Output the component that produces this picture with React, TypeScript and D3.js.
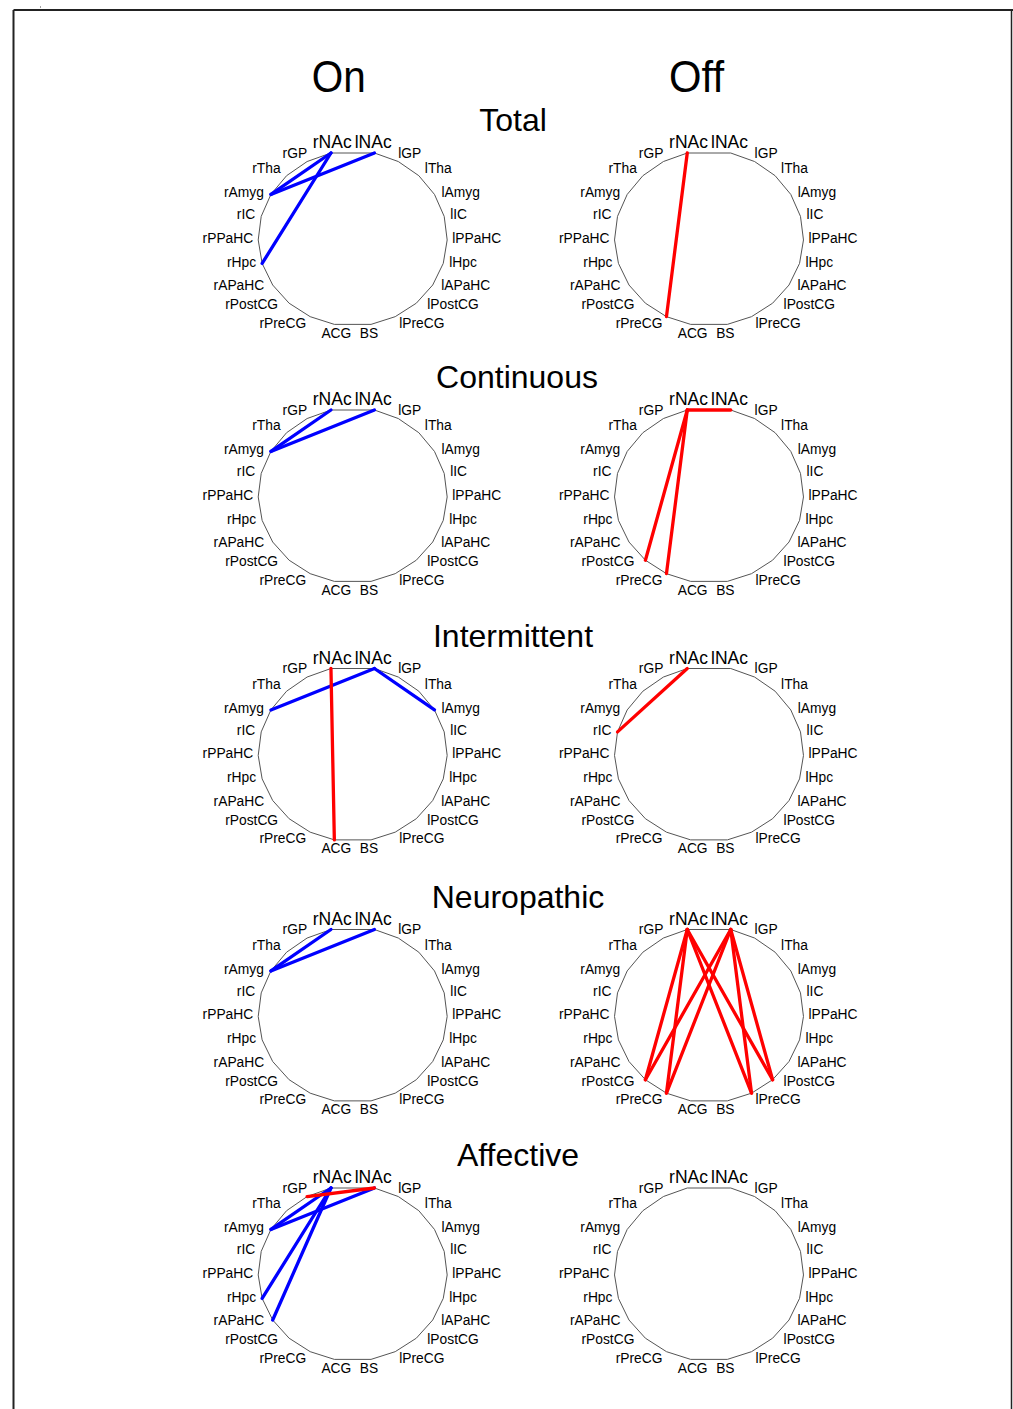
import * as d3 from "d3";
import React from "react";

// node order: right half runs top→bottom (lNAc .. BS), left half mirrors it (rNAc .. ACG)
const rightNodes = ["lNAc", "lGP", "lTha", "lAmyg", "lIC", "lPPaHC", "lHpc", "lAPaHC", "lPostCG", "lPreCG", "BS"];
const leftNodes = ["rNAc", "rGP", "rTha", "rAmyg", "rIC", "rPPaHC", "rHpc", "rAPaHC", "rPostCG", "rPreCG", "ACG"];

const conditions = ["Total", "Continuous", "Intermittent", "Neuropathic", "Affective"];
const states = ["On", "Off"];

// connections per panel: [from, to, kind]  (dec = blue, inc = red)
const totalOn = [
  ["rNAc", "rAmyg", "dec"],
  ["rNAc", "rHpc", "dec"],
  ["lNAc", "rAmyg", "dec"],
];
const totalOff = [["rNAc", "rPreCG", "inc"]];
const continuousOn = [
  ["rNAc", "rAmyg", "dec"],
  ["lNAc", "rAmyg", "dec"],
];
const continuousOff = [
  ["rNAc", "lNAc", "inc"],
  ["rNAc", "rPostCG", "inc"],
  ["rNAc", "rPreCG", "inc"],
];
const intermittentOn = [
  ["rAmyg", "lNAc", "dec"],
  ["lNAc", "lAmyg", "dec"],
  ["rNAc", "ACG", "inc"],
];
const intermittentOff = [["rNAc", "rIC", "inc"]];
const neuropathicOn = [
  ["rNAc", "rAmyg", "dec"],
  ["lNAc", "rAmyg", "dec"],
];
const neuropathicOff = [
  ["rNAc", "rPostCG", "inc"],
  ["rNAc", "rPreCG", "inc"],
  ["rNAc", "lPreCG", "inc"],
  ["rNAc", "lPostCG", "inc"],
  ["lNAc", "rPostCG", "inc"],
  ["lNAc", "rPreCG", "inc"],
  ["lNAc", "lPreCG", "inc"],
  ["lNAc", "lPostCG", "inc"],
];
const affectiveOn = [
  ["rNAc", "rAmyg", "dec"],
  ["lNAc", "rAmyg", "dec"],
  ["rNAc", "rHpc", "dec"],
  ["rNAc", "rAPaHC", "dec"],
  ["rGP", "lNAc", "inc"],
];
const affectiveOff: string[][] = [];

const panels = [
  [totalOn, totalOff],
  [continuousOn, continuousOff],
  [intermittentOn, intermittentOff],
  [neuropathicOn, neuropathicOff],
  [affectiveOn, affectiveOff],
];

const W = 1013;
const H = 1409;
const colX = [352.7, 709];
const rowTop = [153, 410, 668.5, 929.5, 1188];
const titleX = [513, 517, 513, 518, 518];
const Rx = 94.5;
const Ry = 87.7;
const topHalf = 13.3; // deg
const botHalf = 11.2;
const step = (180 - topHalf - botHalf) / 10;
const kindColor: Record<string, string> = { dec: "#0000ff", inc: "#ff0000" };
const font = "'Liberation Sans', Arial, sans-serif";
// label offset from its vertex, by position down the side (outward x, y)
const labelDx = [0, 0, 6, 7, 6, 5, 6, 8.5, 11, 4, 0];
const labelDy = [0, -4, -2.5, 3, 3, 3, 3.5, 5, 6, 11, 13.5];

type Node = { name: string; k: number; side: number; ux: number; uy: number };

const nodes: Node[] = [];
rightNodes.forEach((name, k) => {
  const t = ((topHalf + k * step) * Math.PI) / 180;
  nodes.push({ name, k, side: 1, ux: Math.sin(t), uy: -Math.cos(t) });
});
leftNodes.forEach((name, k) => {
  const t = ((topHalf + k * step) * Math.PI) / 180;
  nodes.push({ name, k, side: -1, ux: -Math.sin(t), uy: -Math.cos(t) });
});
// clockwise ring for the outline
const ring = [...nodes.filter((n) => n.side === 1), ...nodes.filter((n) => n.side === -1).reverse()];
const byName = new Map(nodes.map((n) => [n.name, n]));

function Panel({ cx, top, edges }: { cx: number; top: number; edges: string[][] }) {
  const cy = top + Ry * Math.cos((topHalf * Math.PI) / 180);
  const x = d3.scaleLinear().domain([-1, 1]).range([cx - Rx, cx + Rx]);
  const y = d3.scaleLinear().domain([-1, 1]).range([cy - Ry, cy + Ry]);
  const outline = d3
    .line<Node>()
    .x((d) => x(d.ux))
    .y((d) => y(d.uy))
    .curve(d3.curveLinearClosed)(ring) as string;

  return (
    <g>
      <path d={outline} fill="none" stroke="#555" strokeWidth={1} />
      {edges.map(([a, b, kind], i) => {
        const na = byName.get(a)!;
        const nb = byName.get(b)!;
        return (
          <line
            key={i}
            x1={x(na.ux)}
            y1={y(na.uy)}
            x2={x(nb.ux)}
            y2={y(nb.uy)}
            stroke={kindColor[kind]}
            strokeWidth={3.3}
            strokeLinecap="round"
          />
        );
      })}
      {nodes.map((n) => {
        if (n.k === 0) {
          return (
            <text
              key={n.name}
              x={cx + (n.side === 1 ? 2 : -1)}
              y={top - 5}
              textAnchor={n.side === 1 ? "start" : "end"}
              fontSize={17.5}
              fontFamily={font}
            >
              {n.name}
            </text>
          );
        }
        if (n.k === 10) {
          return (
            <text
              key={n.name}
              x={x(n.ux) - n.side * 2}
              y={y(n.uy) + labelDy[10]}
              textAnchor="middle"
              fontSize={13.8}
              fontFamily={font}
            >
              {n.name}
            </text>
          );
        }
        return (
          <text
            key={n.name}
            x={x(n.ux) + n.side * labelDx[n.k]}
            y={y(n.uy) + labelDy[n.k]}
            textAnchor={n.side === 1 ? "start" : "end"}
            fontSize={13.8}
            fontFamily={font}
          >
            {n.name}
          </text>
        );
      })}
    </g>
  );
}

export default function App() {
  return (
    <svg
      width={W}
      height={H}
      style={{ position: "absolute", left: 0, top: 0, background: "#fff" }}
    >
      {/* frame */}
      <line x1={13.5} y1={10} x2={W} y2={10} stroke="#222" strokeWidth={2} />
      <line x1={13.5} y1={10} x2={13.5} y2={H} stroke="#222" strokeWidth={2} />
      <line x1={1011.5} y1={10} x2={1011.5} y2={H} stroke="#222" strokeWidth={1.5} />
      <line x1={40} y1={7} x2={41} y2={7} stroke="#444" strokeWidth={1} />

      {states.map((s, j) => (
        <text
          key={s}
          x={colX[j] - 14}
          y={92}
          fontSize={45}
          fontFamily={font}
          textLength={s === "On" ? 54 : 55}
          lengthAdjust="spacingAndGlyphs"
          dx={j === 0 ? -27 : -26}
        >
          {s}
        </text>
      ))}

      {conditions.map((c, i) => (
        <g key={c}>
          <text
            x={titleX[i]}
            y={rowTop[i] - 22}
            textAnchor="middle"
            fontSize={32}
            fontFamily={font}
          >
            {c}
          </text>
          {states.map((s, j) => (
            <Panel key={s} cx={colX[j]} top={rowTop[i]} edges={panels[i][j]} />
          ))}
        </g>
      ))}
    </svg>
  );
}
